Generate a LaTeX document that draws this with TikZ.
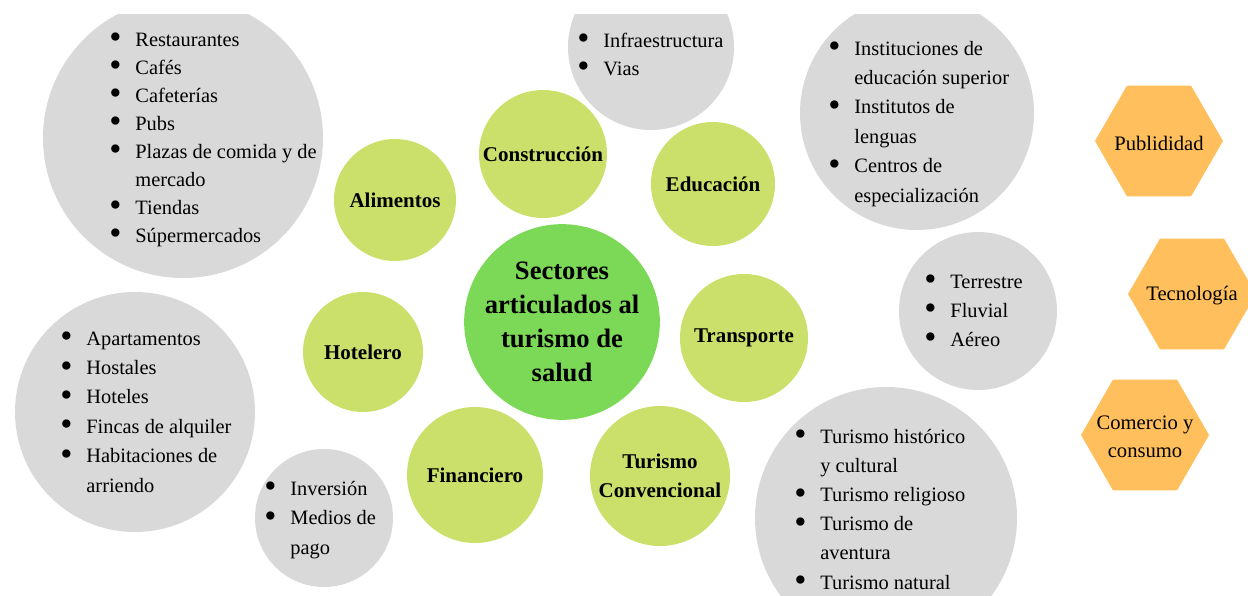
\documentclass[tikz,border=0pt]{standalone}
\usepackage{fontspec}
\setmainfont{Liberation Serif}
\usetikzlibrary{shapes.geometric}
\definecolor{cgray}{HTML}{D9D9D9}
\definecolor{cgreen}{HTML}{CBE06A}
\definecolor{ccenter}{HTML}{7BD957}
\definecolor{corange}{HTML}{FEBF5C}
\newcommand\bl{\makebox[13pt][l]{\smash{\raisebox{-1.3pt}{\scalebox{1.7}{\textbullet}}}}}
\newcommand\nb{\hspace*{13pt}}
\begin{document}
\begin{tikzpicture}[x=0.5pt,y=-0.5pt,
  graycirc/.style={circle,fill=cgray,inner sep=0pt,minimum size=#1pt},
  subcirc/.style={circle,fill=cgreen,inner sep=0pt,minimum size=#1pt,
    font=\fontsize{10.5}{14.5}\selectfont\bfseries,align=center},
  maincirc/.style={circle,fill=ccenter,inner sep=0pt,minimum size=#1pt,
    font=\fontsize{13.3}{17}\selectfont\bfseries,align=center},
  listtext/.style={anchor=base west,inner sep=0pt,font=\fontsize{10.2}{#1}\selectfont},
  hexa/.style={regular polygon,regular polygon sides=6,fill=corange,inner sep=0pt,
    minimum size=64pt},
  hexlabel/.style={inner sep=0pt,font=\fontsize{10.3}{14}\selectfont,align=center}]
\useasboundingbox (0,0) rectangle (1248,595);
\begin{scope}
\clip (0,14) rectangle (1248,595);
% gray detail circles
\node[graycirc=140] (galim) at (183,138) {};
\node[graycirc=83] (ginfra) at (651,47) {};
\node[graycirc=117] (gedu) at (917,113) {};
\node[graycirc=79] (gtrans) at (978,311) {};
\node[graycirc=131] (gtur) at (886,518) {};
\node[graycirc=120] (ghotel) at (135,412) {};
\node[graycirc=69] (gfin) at (324,518) {};
% green sector circles
\node[subcirc=61] (alim) at (395,200) {Alimentos};
\node[subcirc=64] (cons) at (543,154) {Construcción};
\node[subcirc=62] (edu) at (713,184) {Educación};
\node[subcirc=64] (trans) at (744,338) {Transporte};
\node[subcirc=70] (turc) at (660,476) {Turismo\\Convencional};
\node[subcirc=68] (fin) at (475,475) {Financiero};
\node[subcirc=60] (hotel) at (363,352) {Hotelero};
\node[maincirc=92] (center) at (562,322) {Sectores\\articulados al\\turismo de\\salud};
% hexagons
\node[hexa] (publ) at (1159,141) {};
\node[hexa] (tec) at (1192,294) {};
\node[hexa] (com) at (1145,435) {};
\node[hexlabel] (publt) at ([yshift=-1pt]publ.center) {Publididad};
\node[hexlabel] (tect) at ([yshift=-1pt]tec.center) {Tecnología};
\node[hexlabel] (comt) at ([yshift=-1pt]com.center) {Comercio y\\consumo};
% lists
\node[listtext=14pt] (lalim) at (109,46) {\begin{tabular}[t]{@{}l@{}}
\bl Restaurantes\\ \bl Cafés\\ \bl Cafeterías\\ \bl Pubs\\
\bl Plazas de comida y de\\ \nb mercado\\ \bl Tiendas\\ \bl Súpermercados
\end{tabular}};
\node[listtext=14pt] (linfra) at (577,47) {\begin{tabular}[t]{@{}l@{}}
\bl Infraestructura\\ \bl Vias
\end{tabular}};
\node[listtext=14.7pt] (ledu) at (828,55) {\begin{tabular}[t]{@{}l@{}}
\bl Instituciones de\\ \nb educación superior\\ \bl Institutos de\\ \nb lenguas\\
\bl Centros de\\ \nb especialización
\end{tabular}};
\node[listtext=14.5pt] (ltrans) at (924,288) {\begin{tabular}[t]{@{}l@{}}
\bl Terrestre\\ \bl Fluvial\\ \bl Aéreo
\end{tabular}};
\node[listtext=14.7pt] (lhotel) at (60,345) {\begin{tabular}[t]{@{}l@{}}
\bl Apartamentos\\ \bl Hostales\\ \bl Hoteles\\ \bl Fincas de alquiler\\
\bl Habitaciones de\\ \nb arriendo
\end{tabular}};
\node[listtext=14.75pt] (lfin) at (264,495) {\begin{tabular}[t]{@{}l@{}}
\bl Inversión\\ \bl Medios de\\ \nb pago
\end{tabular}};
\node[listtext=14.6pt] (ltur) at (794,443) {\begin{tabular}[t]{@{}l@{}}
\bl Turismo histórico\\ \nb y cultural\\ \bl Turismo religioso\\ \bl Turismo de\\
\nb aventura\\ \bl Turismo natural
\end{tabular}};
\end{scope}
\end{tikzpicture}
\end{document}
